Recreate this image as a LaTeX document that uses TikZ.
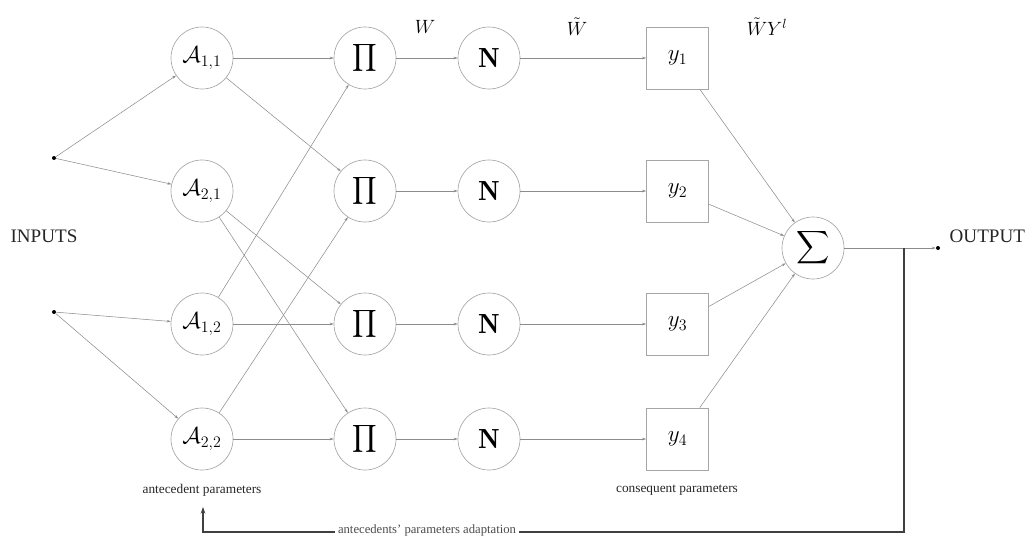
\documentclass[tikz,border=0pt]{standalone}
\usepackage{fontspec}
\usepackage{amsmath}
\newfontfamily\txtfont{Liberation Serif}
\usetikzlibrary{arrows.meta}
\begin{document}
\begin{tikzpicture}[x=0.75pt,y=-0.75pt,
  neuron/.style={circle,draw=black!35,line width=0.5pt,minimum size=46.5pt,inner sep=0pt},
  cbox/.style={rectangle,draw=black!35,line width=0.5pt,minimum size=46.5pt,inner sep=0pt},
  conn/.style={draw=black!45,line width=0.4pt,-{Stealth[length=3pt,width=2pt]}},
  dotnode/.style={circle,fill=black,inner sep=0pt,minimum size=3pt},
  lbl/.style={font=\txtfont\fontsize{10}{12}\selectfont,text=black!85},
  biglbl/.style={font=\txtfont\fontsize{14.3}{17}\selectfont,text=black!85},
  mathlbl/.style={font=\Large}
]
\useasboundingbox (0,0) rectangle (1030,536);

% inputs
\node[dotnode] (in1) at (54,158) {};
\node[dotnode] (in2) at (54,312) {};
\node[biglbl] (inputs) at (44,236) {INPUTS};

% layer 1
\node[neuron,font=\LARGE] (A11) at (202,58) {$\mathcal{A}_{1,1}$};
\node[neuron,font=\LARGE] (A21) at (202,191) {$\mathcal{A}_{2,1}$};
\node[neuron,font=\LARGE] (A12) at (202,324) {$\mathcal{A}_{1,2}$};
\node[neuron,font=\LARGE] (A22) at (202,439) {$\mathcal{A}_{2,2}$};

% layer 2
\node[neuron,font=\Large] (P1) at (365,58) {$\displaystyle\prod$};
\node[neuron,font=\Large] (P2) at (365,191) {$\displaystyle\prod$};
\node[neuron,font=\Large] (P3) at (365,324) {$\displaystyle\prod$};
\node[neuron,font=\Large] (P4) at (365,439) {$\displaystyle\prod$};

% layer 3
\node[neuron,font=\huge] (N1) at (489,58) {$\mathbf{N}$};
\node[neuron,font=\huge] (N2) at (489,191) {$\mathbf{N}$};
\node[neuron,font=\huge] (N3) at (489,324) {$\mathbf{N}$};
\node[neuron,font=\huge] (N4) at (489,439) {$\mathbf{N}$};

% layer 4
\node[cbox,font=\LARGE] (Y1) at (677.5,58) {$y_1$};
\node[cbox,font=\LARGE] (Y2) at (677.5,191) {$y_2$};
\node[cbox,font=\LARGE] (Y3) at (677.5,324) {$y_3$};
\node[cbox,font=\LARGE] (Y4) at (677.5,439) {$y_4$};

% layer 5
\node[neuron,font=\LARGE] (S) at (813,248) {$\displaystyle\sum$};
\node[dotnode] (out) at (938,248) {};
\node[biglbl,anchor=west] (outlbl) at (945,236) {OUTPUT};

% layer labels
\node[mathlbl] (lW) at (425,27) {$W$};
\node[mathlbl] (lWt) at (577,27) {$\tilde{W}$};
\node[mathlbl] (lWY) at (767,27) {$\tilde{W}Y^{l}$};
\node[lbl] (antp) at (202,490) {antecedent parameters};
\node[lbl] (conp) at (677,490) {consequent parameters};

% connections
\draw[conn] (in1) -- (A11);
\draw[conn] (in1) -- (A21);
\draw[conn] (in2) -- (A12);
\draw[conn] (in2) -- (A22);

\draw[conn] (A11) -- (P1);
\draw[conn] (A11) -- (P2);
\draw[conn] (A21) -- (P3);
\draw[conn] (A21) -- (P4);
\draw[conn] (A12) -- (P1);
\draw[conn] (A12) -- (P3);
\draw[conn] (A22) -- (P2);
\draw[conn] (A22) -- (P4);

\foreach \i in {1,2,3,4}{
  \draw[conn] (P\i) -- (N\i);
  \draw[conn] (N\i) -- (Y\i);
  \draw[conn] (Y\i) -- (S);
}
\draw[conn] (S) -- (out);

% feedback
\coordinate (fb1) at (904,248);
\coordinate (fb2) at (904,532);
\coordinate (fb3) at (203,532);
\coordinate (fb4) at (203,507);
\draw[black!75,line width=0.9pt,-{Stealth[length=5pt,width=3.5pt]}]
  (fb1) -- (fb2) -- (fb3) -- (fb4);
\node[font=\txtfont\fontsize{9.5}{11}\selectfont,text=black!70,fill=white,inner xsep=2pt,inner ysep=0.5pt] (fblbl) at (427,530) {antecedents’ parameters adaptation};
\end{tikzpicture}
\end{document}
